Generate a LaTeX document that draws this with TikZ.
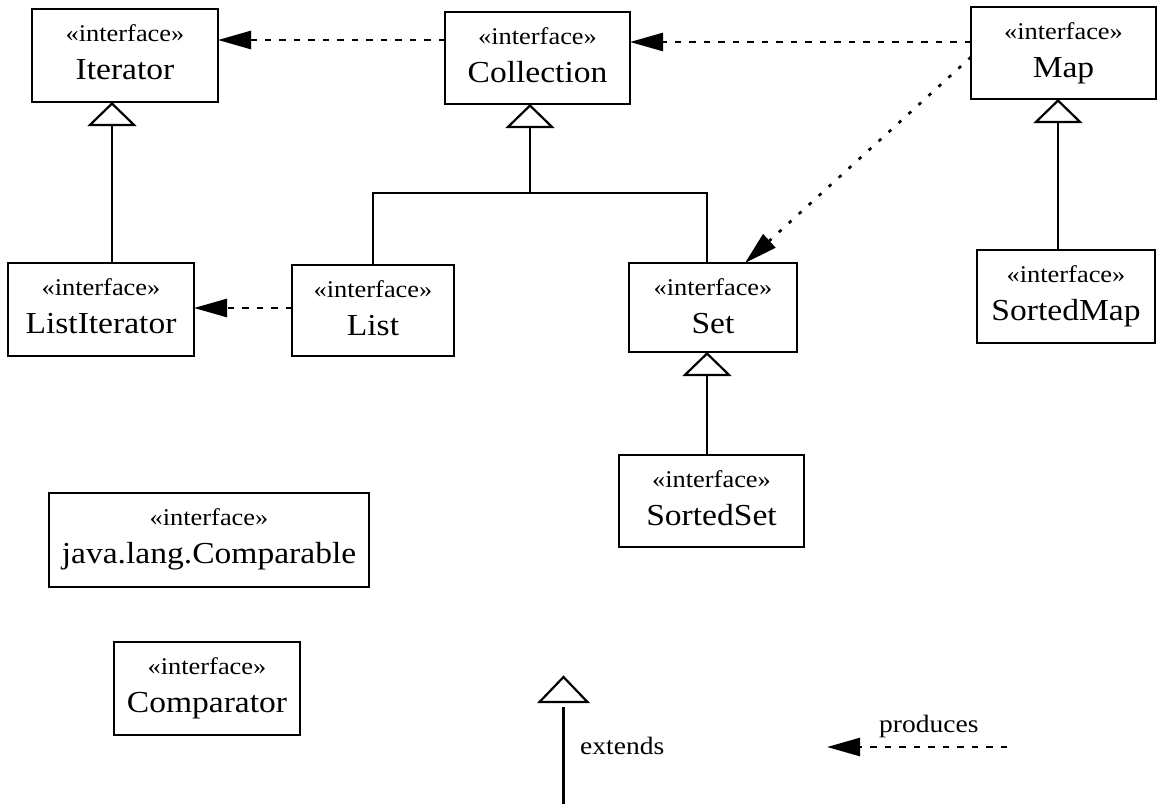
\documentclass[tikz,border=0pt]{standalone}
\usepackage{fontspec}
\setmainfont{Liberation Serif}[FakeStretch=1.1]
\usetikzlibrary{arrows.meta}
\tikzset{
  box/.style={draw, line width=2.3pt, inner sep=0pt, outer sep=0pt},
  ifc/.style={font=\fontsize{24}{24}\selectfont, anchor=base, inner sep=0pt},
  nm/.style={font=\fontsize{30.5}{30.5}\selectfont, anchor=base, inner sep=0pt},
  lbl/.style={font=\fontsize{25}{25}\selectfont, anchor=base west, inner sep=0pt},
  conn/.style={line width=2.2pt},
  ext/.style={conn, -{Triangle[open, length=24pt, width=49pt, line width=2.2pt]}},
  prod/.style={line width=2.6pt, dash pattern=on 6.5pt off 8pt, -{Triangle[length=33pt, width=18pt]}},
  proddot/.style={prod, dash pattern=on 3.5pt off 10pt},
}
\newcommand\umlbox[6]{%
  \node[box, minimum width=#4pt, minimum height=#5pt] (#1) at (#2,#3) {};
  \node[ifc] (#1-s) at ([yshift=-32pt]#1.north) {«interface»};
  \node[nm] (#1-n) at ([yshift=-70pt]#1.north) {#6};
}
\begin{document}
\begin{tikzpicture}[x=1pt,y=-1pt]
\fill[white] (0,0) rectangle (1158,804);
\useasboundingbox (0,0) rectangle (1158,804);

\umlbox{Iterator}{125}{55.5}{186}{93}{Iterator}
\umlbox{Collection}{537.5}{58}{185}{92}{Collection}
\umlbox{Map}{1063.5}{53}{185}{92}{Map}
\umlbox{ListIterator}{101}{309.5}{186}{93}{ListIterator}
\umlbox{List}{373}{310.5}{162}{91}{List}
\umlbox{Set}{713}{307.5}{168}{89}{Set}
\umlbox{SortedMap}{1066}{296.5}{178}{93}{SortedMap}
\umlbox{SortedSet}{711.5}{501}{185}{92}{SortedSet}
\umlbox{Comparable}{209}{540}{320}{94}{java.lang.Comparable}
\umlbox{Comparator}{207}{688.5}{186}{93}{Comparator}

% extends
\draw[ext] (ListIterator.north -| 112,0) -- (Iterator.south -| 112,0);
\coordinate (cj) at (530,193);
\draw[conn] (List.north) |- (cj) -| (Set.north -| 707,0);
\draw[ext] (cj) -- (Collection.south -| cj);
\draw[ext] (SortedMap.north -| 1058,0) -- (Map.south -| 1058,0);
\draw[ext] (SortedSet.north -| 707,0) -- (Set.south -| 707,0);

% produces
\draw[prod] (Collection.west |- 0,40) -- (Iterator.east |- 0,40);
\draw[prod] (Map.west |- 0,42) -- (Collection.east |- 0,42);
\draw[prod] (List.west |- 0,308) -- (ListIterator.east |- 0,308);
\draw[proddot] (Map.west |- 0,57) -- ([xshift=32pt]Set.north);

% legend
\coordinate (eT) at (563.5,677);
\coordinate (eS) at (563.5,707);
\coordinate (eB) at (563.5,804);
\draw[conn] (eT) -- ++(-24,25) -- ++(48,0) -- cycle;
\draw[conn] (eB) -- (eS);
\node[lbl] (extlbl) at (580,754) {extends};
\coordinate (pS) at (1007,747);
\coordinate (pE) at (827,747);
\draw[prod] (pS) -- (pE);
\node[lbl] (prodlbl) at (879,732) {produces};
\end{tikzpicture}
\end{document}
